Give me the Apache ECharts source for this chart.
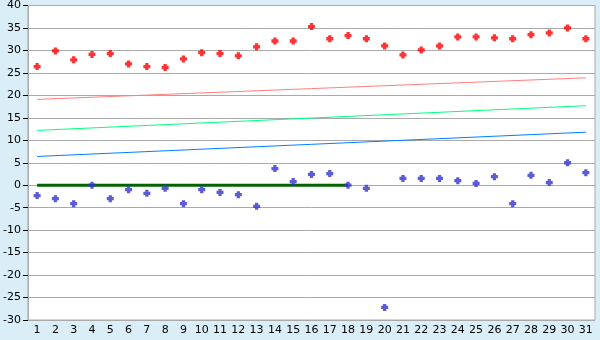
<!DOCTYPE html>
<html><head><meta charset="utf-8">
<script src="https://cdn.jsdelivr.net/npm/echarts@6/dist/echarts.min.js"></script>
<style>html,body{margin:0;padding:0;background:#d9eef6;}#c{width:600px;height:340px;}</style>
</head><body><div id="c"></div>
<script>
var categories = [];
for (var i = 1; i <= 31; i++) categories.push(String(i));
var redPoints = [26.4,29.9,27.9,29.1,29.3,27.0,26.4,26.2,28.1,29.5,29.3,28.8,30.8,32.1,32.1,35.3,32.6,33.3,32.6,31.0,29.0,30.1,31.0,33.0,33.0,32.8,32.6,33.5,33.9,35.0,32.6];
var bluePoints = [-2.3,-3.0,-4.1,0.0,-3.0,-1.0,-1.8,-0.7,-4.1,-1.0,-1.6,-2.1,-4.7,3.7,0.8,2.4,2.6,0.0,-0.7,-27.2,1.5,1.5,1.5,1.0,0.4,1.9,-4.1,2.2,0.6,5.0,2.8];
var redTrend = [[0, 19.1], [30, 23.9]];
var greenTrend = [[0, 12.2], [30, 17.7]];
var blueTrend = [[0, 6.4], [30, 11.8]];
var zeroLine = [[0, 0], [17, 0]];
var yMin = -30, yMax = 40, yStep = 5;

var marker = 'path://M1.6,0H4.4V1.6H6V4.4H4.4V6H1.6V4.4H0V1.6H1.6Z';
var chart = echarts.init(document.getElementById('c'), null, {renderer: 'canvas'});
function trend(data, color, w) {
  return {type: 'line', data: data, symbol: 'none', lineStyle: {color: color, width: w}, silent: true, animation: false, z: 2};
}
chart.setOption({
  backgroundColor: '#d9eef6',
  animation: false,
  grid: {left: 26, right: 5, top: 5, bottom: 20, show: true, backgroundColor: '#ffffff', borderColor: '#aaaaaa', borderWidth: 1},
  xAxis: {
    type: 'category', data: categories, boundaryGap: true,
    axisLine: {lineStyle: {color: '#aaaaaa', width: 1}},
    axisTick: {alignWithLabel: true, length: 5, lineStyle: {color: '#000000'}},
    axisLabel: {color: '#000000', fontFamily: 'DejaVu Sans', fontSize: 11, margin: 5, interval: 0},
    splitLine: {show: false}
  },
  yAxis: {
    type: 'value', min: yMin, max: yMax, interval: yStep,
    axisLine: {show: true, lineStyle: {color: '#aaaaaa'}},
    axisTick: {show: true, length: 5, lineStyle: {color: '#000000'}},
    axisLabel: {color: '#000000', fontFamily: 'DejaVu Sans', fontSize: 11, margin: 7},
    splitLine: {lineStyle: {color: '#aaaaaa', width: 1}}
  },
  series: [
    trend(redTrend, '#ff8080', 1),
    trend(greenTrend, '#00ff80', 1),
    trend(blueTrend, '#0080ff', 1),
    trend(zeroLine, '#006400', 3),
    {type: 'scatter', data: redPoints, symbol: marker, symbolSize: 7, itemStyle: {color: '#ff0000'}, z: 3},
    {type: 'scatter', data: bluePoints, symbol: marker, symbolSize: 7, itemStyle: {color: '#3333cc'}, z: 3}
  ]
});
</script></body></html>
